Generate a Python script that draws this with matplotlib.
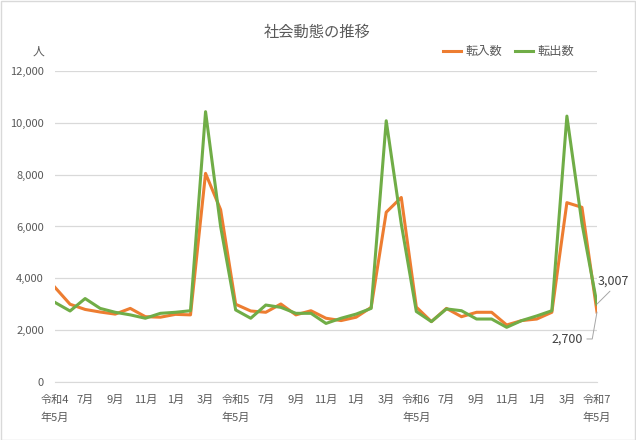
import matplotlib
matplotlib.use("Agg")
import matplotlib.pyplot as plt
import numpy as np

plt.rcParams['font.family'] = ['Noto Sans CJK JP', 'DejaVu Sans']

# 令和4年5月 ～ 令和7年5月 (37か月)
tick_labels = ['令和4\n年5月', '7月', '9月', '11月', '1月', '3月',
               '令和5\n年5月', '7月', '9月', '11月', '1月', '3月',
               '令和6\n年5月', '7月', '9月', '11月', '1月', '3月',
               '令和7\n年5月']

tennyu = [3650, 3000, 2800, 2700, 2620, 2840, 2520, 2500, 2610, 2590, 8050, 6650,
          3000, 2740, 2690, 3010, 2590, 2750, 2460, 2370, 2500, 2880, 6550, 7120,
          2890, 2330, 2840, 2520, 2690, 2690, 2200, 2370, 2430, 2690, 6920, 6740,
          2700]
tenshutsu = [3070, 2740, 3220, 2840, 2690, 2590, 2460, 2650, 2690, 2750, 10430, 6000,
             2780, 2460, 2970, 2880, 2650, 2650, 2260, 2460, 2620, 2840, 10080, 6100,
             2720, 2330, 2820, 2750, 2430, 2430, 2110, 2370, 2550, 2750, 10260, 6120,
             3007]

orange = '#ED7D31'
green = '#70AD47'
grid_c = '#D9D9D9'
text_c = '#595959'

fig = plt.figure(figsize=(6.36, 4.40), dpi=100)
ax = fig.add_axes([55 / 636, 1 - 382 / 440, 542 / 636, 311 / 440])

x = np.arange(len(tennyu))
ax.plot(x, tennyu, color=orange, lw=2.2, label='転入数', solid_joinstyle='round', zorder=3)
ax.plot(x, tenshutsu, color=green, lw=2.2, label='転出数', solid_joinstyle='round', zorder=3)

ax.set_xlim(0, len(tennyu) - 1)
ax.set_ylim(0, 12000)
ax.set_yticks(np.arange(0, 12001, 2000))
ax.set_yticklabels([f'{v:,}' for v in range(0, 12001, 2000)])
ax.set_xticks(np.arange(0, len(tennyu), 2))
ax.set_xticklabels(tick_labels, va='top', linespacing=1.9)
ax.set_xticks(np.arange(0, len(tennyu), 12), minor=True)

ax.grid(axis='y', color=grid_c, lw=0.9)
ax.grid(axis='x', which='minor', color=grid_c, lw=0.9)
ax.set_axisbelow(True)
for s in ['top', 'right', 'left']:
    ax.spines[s].set_visible(False)
ax.spines['bottom'].set_color(grid_c)
ax.tick_params(axis='both', which='both', length=0, labelsize=8, colors=text_c)
ax.tick_params(axis='y', pad=8)
ax.tick_params(axis='x', pad=9)

# 最終月のデータラベル
ax.annotate('3,007', xy=(x[-1], tenshutsu[-1]), xytext=(x[-1] + 0.07, 3900),
            fontsize=9, color='#404040', ha='left', va='center',
            arrowprops=dict(arrowstyle='-', color='#A6A6A6', lw=0.7,
                            shrinkA=1, shrinkB=0, relpos=(0.5, 0.0)))
ax.annotate('2,700', xy=(x[-1], tennyu[-1]), xytext=(x[-1] - 0.95, 1660),
            fontsize=9, color='#404040', ha='right', va='center',
            arrowprops=dict(arrowstyle='-', color='#A6A6A6', lw=0.7,
                            shrinkA=1, shrinkB=0, relpos=(1.0, 0.5),
                            connectionstyle='angle,angleA=0,angleB=80,rad=0'))

fig.text(317 / 636, 1 - 32 / 440, '社会動態の推移', ha='center', va='center',
         fontsize=11, color=text_c)
fig.text(38 / 636, 1 - 51 / 440, '人', ha='center', va='center',
         fontsize=8.5, color=text_c)

leg = fig.legend(loc='center right', bbox_to_anchor=(574 / 636, 1 - 52 / 440),
                 ncol=2, frameon=False, fontsize=8.8, handlelength=1.5,
                 handletextpad=0.35, columnspacing=1.0,
                 borderpad=0, borderaxespad=0)
for t in leg.get_texts():
    t.set_color(text_c)

fig.patches.append(plt.Rectangle((0.5 / 636, 0.5 / 440), 634 / 636, 438 / 440,
                                 transform=fig.transFigure, fill=False,
                                 edgecolor=grid_c, lw=1))

fig.savefig('out.png', dpi=100)
